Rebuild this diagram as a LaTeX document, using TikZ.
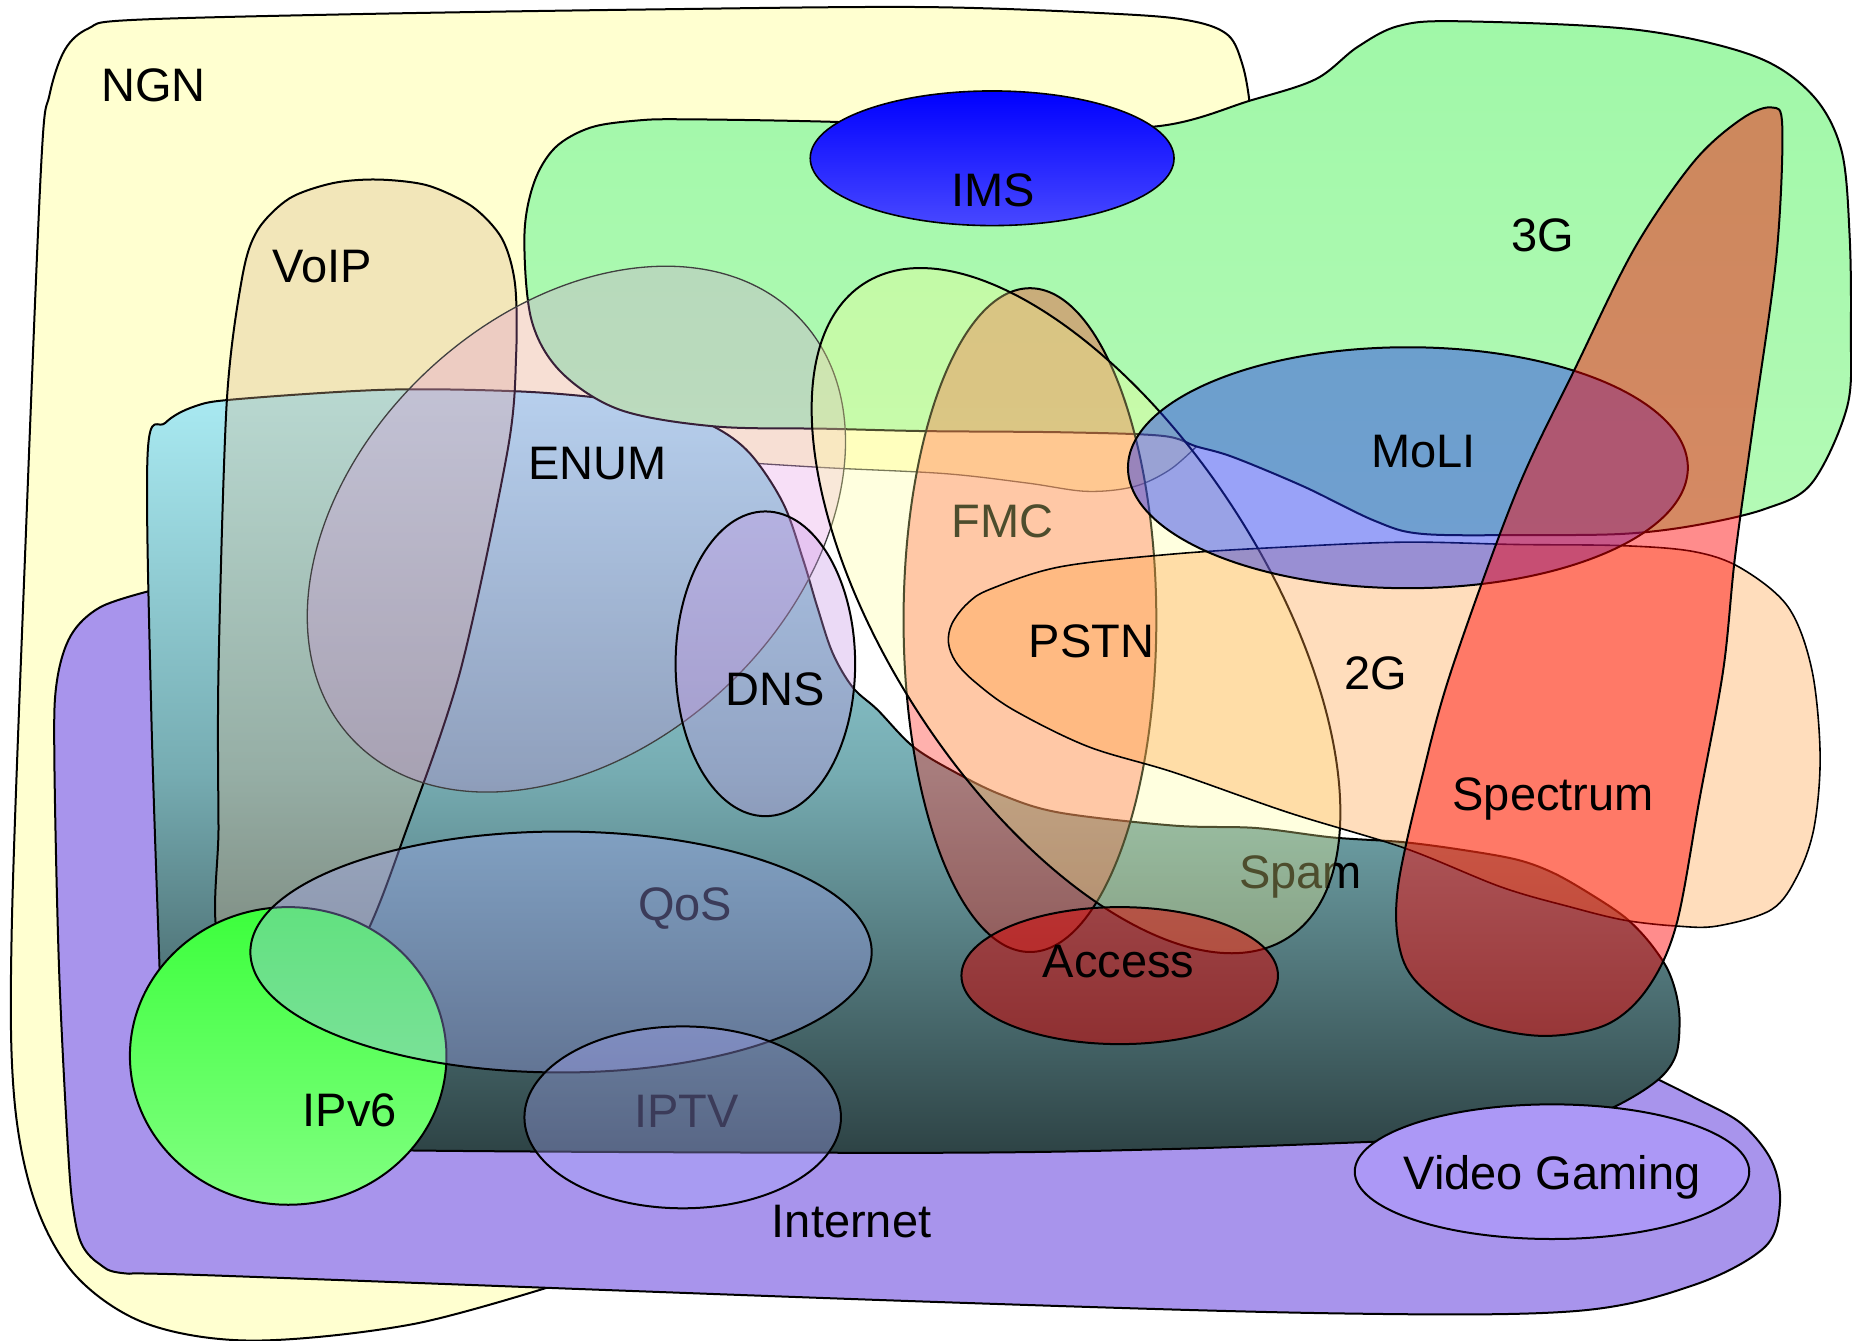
\documentclass[tikz,border=0pt]{standalone}
\usepackage{fontspec}
\setmainfont{Liberation Sans}
\definecolor{ngnY}{RGB}{255,255,208}
\definecolor{threeGtop}{RGB}{160,248,168}
\definecolor{threeGbot}{RGB}{180,250,182}
\definecolor{netP}{RGB}{168,148,236}
\definecolor{gradTop}{RGB}{170,235,243}
\definecolor{gradMid}{RGB}{118,172,178}
\definecolor{gradBot}{RGB}{45,66,68}
\definecolor{imsTop}{RGB}{0,0,255}
\definecolor{imsBot}{RGB}{72,72,255}
\definecolor{voipC}{RGB}{216,180,140}
\definecolor{enumC}{RGB}{224,128,224}
\definecolor{dnsC}{RGB}{200,150,230}
\definecolor{vsixTop}{RGB}{60,255,60}
\definecolor{vsixBot}{RGB}{130,255,130}
\definecolor{qosC}{RGB}{170,170,255}
\definecolor{redE}{RGB}{255,40,30}
\definecolor{slantC}{RGB}{255,255,150}
\definecolor{orangeC}{RGB}{255,160,64}
\definecolor{moliC}{RGB}{30,50,240}
\definecolor{specC}{RGB}{255,0,0}
\definecolor{accC}{RGB}{220,0,0}
\definecolor{vgC}{RGB}{172,152,246}
\begin{document}
\begin{tikzpicture}[x=1.1811pt,y=-1.1811pt, line join=round,
  blob/.style={draw=black, line width=2pt},
  thinblob/.style={draw=black!75, line width=1.3pt},
  lbl/.style={font=\fontsize{47}{56}\selectfont, anchor=base, inner sep=0pt}]
\useasboundingbox (0,0) rectangle (1568,1135);

% NGN
\draw[blob, fill=ngnY] plot[smooth, tension=0.55] coordinates {(480,1085) (350,1121) (215,1135) (125,1121) (65,1081) (30,1019) (12,929) (10,784) (22,450) (35,137) (42,80) (55,42) (75,24) (110,17) (300,12) (550,8) (784,6) (950,12) (1010,18) (1040,30) (1052,55) (1058,87) (1060,120)} -- (1062,380) -- (1000,600) -- (600,900) -- cycle;

% white shape
\fill[white] plot[smooth, tension=0.55] coordinates {(620,391) (700,396) (800,401) (870,409) (920,416) (960,412) (990,398) (1013,378)} -- (1060,330) -- (1568,330) -- (1568,800) -- (1000,800) -- (700,700) -- cycle;
\draw[thinblob] plot[smooth, tension=0.55] coordinates {(620,391) (700,396) (800,401) (870,409) (920,416) (960,412) (990,398) (1013,378)};

% Internet
\draw[blob, fill=netP] plot[smooth, tension=0.55] coordinates {(1400,912) (1434,929) (1474,951) (1500,983) (1507,1019) (1494,1056) (1434,1088) (1334,1110) (1134,1112) (784,1102) (185,1080) (105,1078) (84,1070) (70,1055) (63,1030) (58,980) (50,820) (46,640) (48,578) (60,538) (85,514) (128,500)} -- (150,520) -- (200,900) -- (1300,900) -- cycle;

% gradient shape
\draw[blob, top color=gradTop, bottom color=gradBot, middle color=gradMid] plot[smooth cycle, tension=0.55] coordinates {(125,384) (140,358) (165,344) (200,338) (325,330) (430,331) (500,336) (560,345) (604,361) (635,384) (663,426) (680,474) (692,514) (705,553) (722,582) (743,601) (773,632) (809,654) (848,673) (897,688) (994,699) (1063,701) (1128,709) (1188,713) (1241,720) (1285,728) (1315,739) (1345,756) (1375,776) (1395,796) (1411,819) (1419,841) (1422,864) (1419,893) (1404,914) (1369,936) (1320,955) (1250,963) (1154,967) (984,973) (784,976) (345,974) (160,968) (138,900) (135,817) (128,600)};

% 3G
\draw[blob, top color=threeGtop, bottom color=threeGbot] plot[smooth cycle, tension=0.55] coordinates {(444,200) (452,155) (470,125) (500,108) (540,102) (580,101) (700,103) (840,108) (979,107) (1059,85) (1114,67) (1149,40) (1184,22) (1235,18) (1384,25) (1484,47) (1534,80) (1559,127) (1566,200) (1567,280) (1564,344) (1534,409) (1494,431) (1434,445) (1374,452) (1290,453) (1204,452) (1164,441) (1104,412) (1044,387) (1013,378) (984,369) (900,366) (784,365) (700,363) (605,361) (525,347) (475,315) (450,271)};

% IMS
\draw[blob, line width=1.6pt, top color=imsTop, bottom color=imsBot] (840,134) ellipse [x radius=154, y radius=57];

% VoIP
\draw[blob, fill=voipC, fill opacity=0.33] plot[smooth cycle, tension=0.5] coordinates {(186,800) (185,700) (185,567) (192,340) (205,235) (218,195) (245,168) (282,155) (320,152) (362,157) (400,175) (425,202) (436,240) (437,300) (430,380) (390,567) (345,700) (305,800) (245,870)};

% ENUM
\draw[thinblob, fill=enumC, fill opacity=0.25, rotate around={43:(488,448)}] (488,448) ellipse [x radius=260, y radius=184];

% DNS
\draw[blob, fill=dnsC, fill opacity=0.35] (648,562) ellipse [x radius=76, y radius=129];

% IPv6
\draw[blob, top color=vsixTop, bottom color=vsixBot] (244,894) ellipse [x radius=134, y radius=126];

% QoS
\node[lbl] (tQoS) at (580,779) {QoS};
\draw[blob, fill=qosC, fill opacity=0.35] (475,806) ellipse [x radius=263, y radius=102];

% IPTV
\node[lbl] (tIPTV) at (581,955) {IPTV};
\draw[blob, fill=qosC, fill opacity=0.35] (578,946) ellipse [x radius=134, y radius=77];

% red tall ellipse
\draw[blob, fill=redE, fill opacity=0.36] (872,525) ellipse [x radius=107, y radius=281];

% faded labels
\node[lbl] (tFMC) at (849,455) {FMC};
\node[lbl] (tSpam) at (1101,752) {Spam};

% slanted ellipse
\draw[blob, fill=slantC, fill opacity=0.3, rotate around={-57:(911,517)}] (911,517) ellipse [x radius=330, y radius=159];

% orange blob
\draw[blob, line width=1.6pt, fill=orangeC, fill opacity=0.35] plot[smooth cycle, tension=0.55] coordinates {(806,528) (819,511) (838,499) (897,480) (994,469) (1091,463) (1189,459) (1284,461) (1374,462) (1434,467) (1474,481) (1514,514) (1534,567) (1541,639) (1536,700) (1522,741) (1500,770) (1454,784) (1419,784) (1375,779) (1330,768) (1271,751) (1189,718) (1091,688) (994,654) (921,632) (858,601) (825,577) (809,560) (803,544)};

% MoLI
\draw[blob, fill=moliC, fill opacity=0.45] (1192,396) ellipse [x radius=237, y radius=102];

% Spectrum
\draw[blob, fill=specC, fill opacity=0.45] plot[smooth cycle, tension=0.55] coordinates {(1500,91) (1509,108) (1504,217) (1484,362) (1469,471) (1459,567) (1439,676) (1419,784) (1394,838) (1359,868) (1304,877) (1244,864) (1199,831) (1184,798) (1184,748) (1204,658) (1229,567) (1284,416) (1334,311) (1384,210) (1434,137) (1474,101)};

% Access
\draw[blob, fill=accC, fill opacity=0.5] (948,826) ellipse [x radius=134, y radius=58];

% Video Gaming
\draw[blob, fill=vgC] (1314,992) ellipse [x radius=167, y radius=57];

% labels
\node[lbl] (tNGN) at (130,86) {NGN};
\node[lbl] (tIMS) at (841,175) {IMS};
\node[lbl] (t3G) at (1306,213) {3G};
\node[lbl] (tVoIP) at (273,239) {VoIP};
\node[lbl] (tENUM) at (506,406) {ENUM};
\node[lbl] (tMoLI) at (1205,396) {MoLI};
\node[lbl] (tPSTN) at (924,557) {PSTN};
\node[lbl] (tDNS) at (656,597) {DNS};
\node[lbl] (t2G) at (1165,584) {2G};
\node[lbl] (tSpectrum) at (1315,686) {Spectrum};
\node[lbl] (tAccess) at (947,828) {Access};
\node[lbl] (tIPv6) at (296,954) {IPv6};
\node[lbl] (tVG) at (1314,1007) {Video Gaming};
\node[lbl] (tInternet) at (721,1048) {Internet};
\end{tikzpicture}
\end{document}
